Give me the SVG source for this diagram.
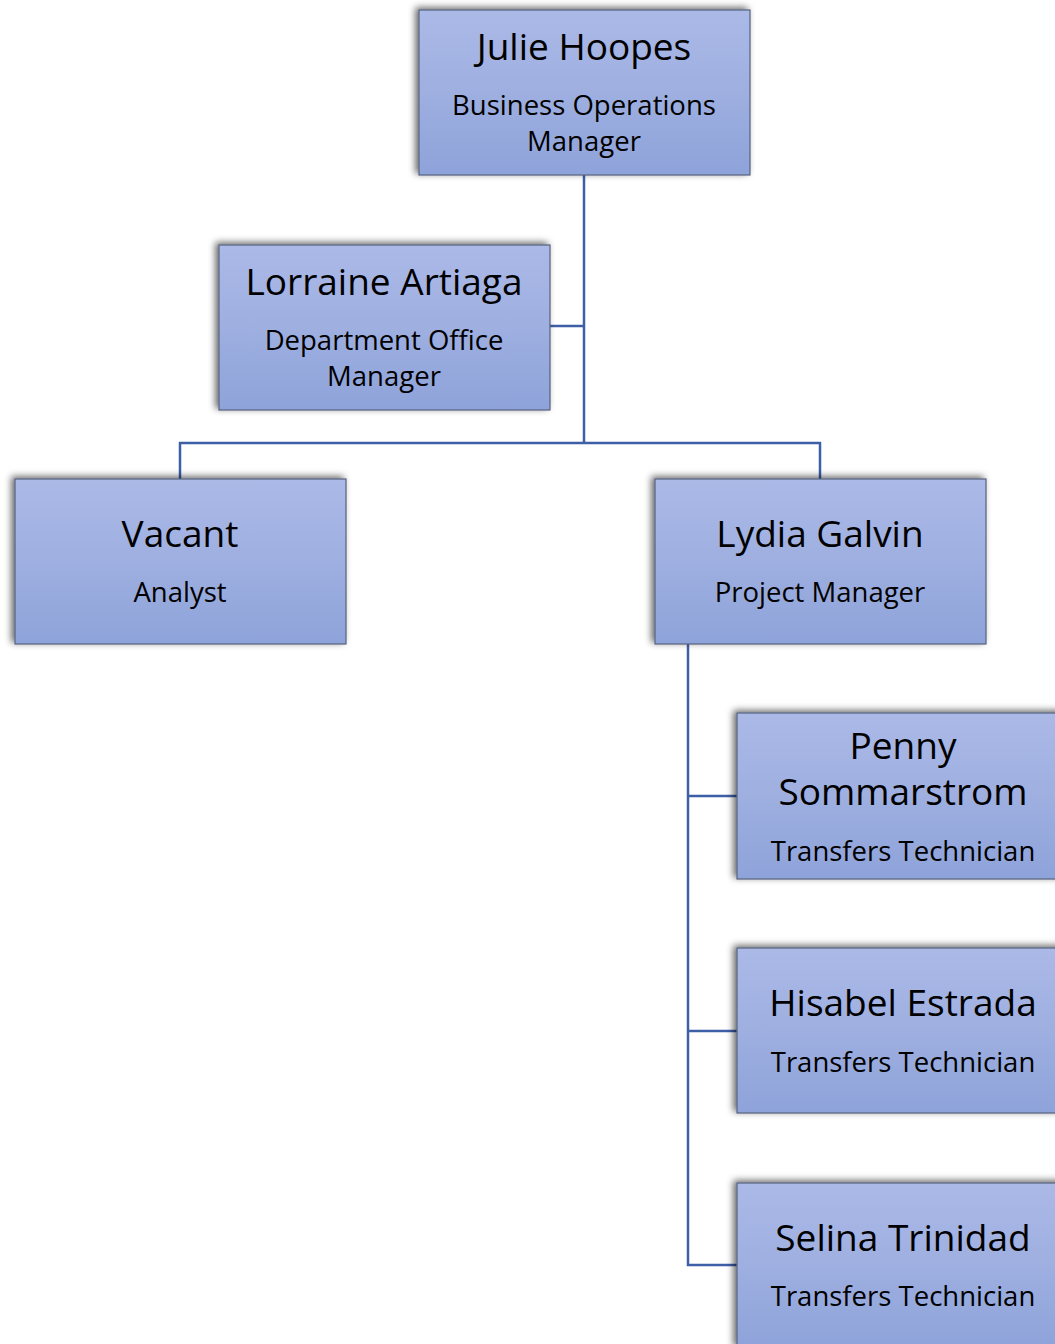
<svg xmlns="http://www.w3.org/2000/svg" width="1055" height="1344" viewBox="0 0 1055 1344">
  <defs>
    <linearGradient id="boxFill" x1="0" y1="0" x2="0" y2="1">
      <stop offset="0" stop-color="#abb9e7"/>
      <stop offset="0.5" stop-color="#9eafe0"/>
      <stop offset="1" stop-color="#8ea3da"/>
    </linearGradient>
    <filter id="shadow" x="-10%" y="-15%" width="120%" height="130%">
      <feDropShadow dx="-3" dy="-2" stdDeviation="3.5" flood-color="#000" flood-opacity="0.6"/>
    </filter>
  </defs>
  <style>
    .box { fill: url(#boxFill); stroke: #56627e; stroke-width: 1.2; filter: url(#shadow); }
    .name { font-family: "Open Sans", "Noto Sans", sans-serif; font-size: 37px; fill: #000; text-anchor: middle; }
    .title { font-family: "Open Sans", "Noto Sans", sans-serif; font-size: 27.5px; fill: #000; text-anchor: middle; }
    .link { fill: none; stroke: #3d5fa6; stroke-width: 2.5; }
  </style>
  <rect width="1055" height="1344" fill="#fff"/>

  <!-- reporting lines -->
  <g id="connectors">
    <path class="link" d="M584 175 V443"/>
    <path class="link" d="M550 326 H584"/>
    <path class="link" d="M180 479 V443 H820 V479"/>
    <path class="link" d="M688 644 V1265 H737"/>
    <path class="link" d="M688 796 H737"/>
    <path class="link" d="M688 1031 H737"/>
  </g>

  <g id="julie-hoopes">
    <rect class="box" x="419" y="10" width="331" height="165"/>
    <text class="name" x="584" y="60">Julie Hoopes</text>
    <text class="title" x="584" y="115">Business Operations</text>
    <text class="title" x="584" y="151">Manager</text>
  </g>

  <g id="lorraine-artiaga">
    <rect class="box" x="219" y="245" width="331" height="165"/>
    <text class="name" x="384" y="295">Lorraine Artiaga</text>
    <text class="title" x="384" y="350">Department Office</text>
    <text class="title" x="384" y="386">Manager</text>
  </g>

  <g id="vacant">
    <rect class="box" x="15" y="479" width="331" height="165"/>
    <text class="name" x="180" y="547">Vacant</text>
    <text class="title" x="180" y="602">Analyst</text>
  </g>

  <g id="lydia-galvin">
    <rect class="box" x="655" y="479" width="331" height="165"/>
    <text class="name" x="820" y="547">Lydia Galvin</text>
    <text class="title" x="820" y="602">Project Manager</text>
  </g>

  <g id="penny-sommarstrom">
    <rect class="box" x="737" y="713" width="331" height="166"/>
    <text class="name" x="903" y="759">Penny</text>
    <text class="name" x="903" y="805">Sommarstrom</text>
    <text class="title" x="903" y="861">Transfers Technician</text>
  </g>

  <g id="hisabel-estrada">
    <rect class="box" x="737" y="948" width="331" height="165"/>
    <text class="name" x="903" y="1016">Hisabel Estrada</text>
    <text class="title" x="903" y="1072">Transfers Technician</text>
  </g>

  <g id="selina-trinidad">
    <rect class="box" x="737" y="1183" width="331" height="165"/>
    <text class="name" x="903" y="1251">Selina Trinidad</text>
    <text class="title" x="903" y="1306">Transfers Technician</text>
  </g>
</svg>
